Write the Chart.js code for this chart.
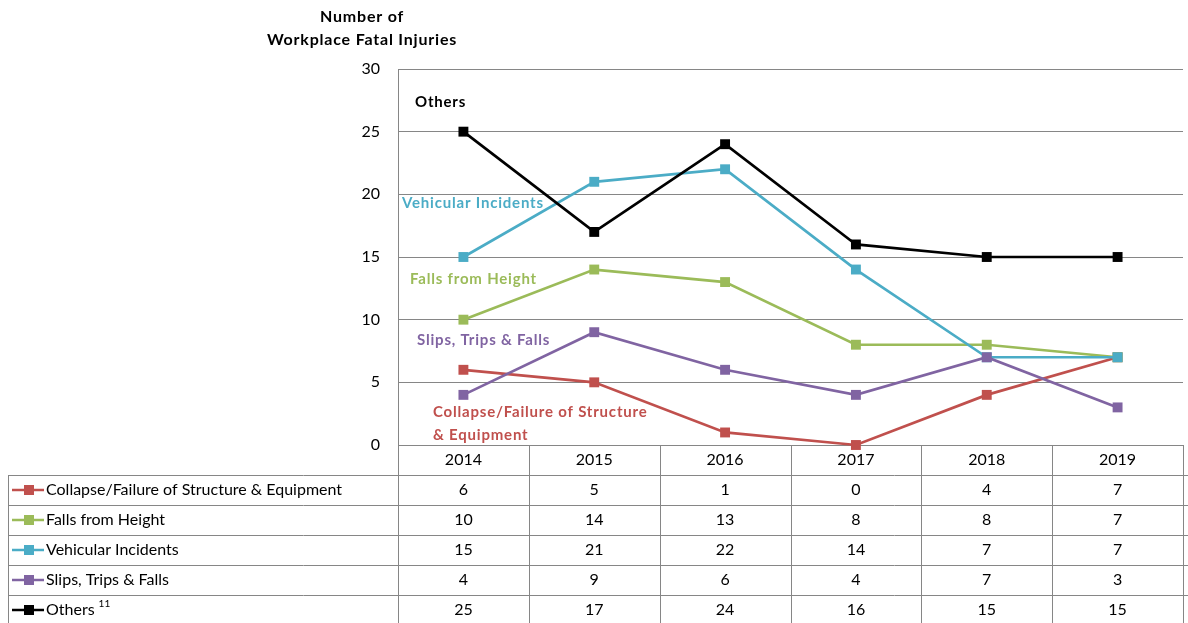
<!DOCTYPE html>
<html>
<head>
<meta charset="utf-8">
<script src="https://cdn.jsdelivr.net/npm/chart.js@4/dist/chart.umd.min.js"></script>
<style>
    body { margin: 0; overflow: hidden; background: #fff; }
    #wrap { width: 1190px; height: 623px; }
</style>
</head>
<body>
<div id="wrap"><canvas id="fatalChart" width="1190" height="623"></canvas></div>
<script>
const years = ['2014', '2015', '2016', '2017', '2018', '2019']

const collapseFailure = [6, 5, 1, 0, 4, 7]
const fallsFromHeight = [10, 14, 13, 8, 8, 7]
const vehicularIncidents = [15, 21, 22, 14, 7, 7]
const slipsTripsFalls = [4, 9, 6, 4, 7, 3]
const others = [25, 17, 24, 16, 15, 15]

const seriesNames = ['Collapse/Failure of Structure & Equipment', 'Falls from Height', 'Vehicular Incidents', 'Slips, Trips & Falls', 'Others']
const seriesColors = ['#C0504D', '#9BBB59', '#4BACC6', '#8064A2', '#000000']
const seriesValues = [collapseFailure, fallsFromHeight, vehicularIncidents, slipsTripsFalls, others]

const yTicks = [0, 5, 10, 15, 20, 25, 30]

const FONT = 'Lato, "Open Sans", sans-serif'
const GRID = '#868686'

// labels drawn inside the plot (text, colour, x, y)
const plotLabels = [
    ['Others', '#000000', 415, 102],
    ['Vehicular Incidents', '#4BACC6', 402, 203],
    ['Falls from Height', '#9BBB59', 410, 279],
    ['Slips, Trips & Falls', '#8064A2', 417, 340],
    ['Collapse/Failure of Structure', '#C0504D', 433, 412],
    ['& Equipment', '#C0504D', 433, 435],
]

const datasets = seriesNames.map((name, i) => ({
    label: name,
    data: seriesValues[i],
    borderColor: seriesColors[i],
    backgroundColor: seriesColors[i],
    borderWidth: 2.7,
    pointStyle: 'rect',
    pointRadius: 7,
    pointHoverRadius: 7,
    pointBorderWidth: 0,
    tension: 0,
    clip: false,
    order: seriesNames.length - i
}))

const tablePlugin = {
    id: 'tablePlugin',
    afterDraw(chart) {
        const ctx = chart.ctx
        const x = chart.scales.x
        const area = chart.chartArea
        const step = x.getPixelForValue(1) - x.getPixelForValue(0)
        const tableLeft = 8
        const headerTop = area.bottom
        const rowTop = headerTop + 30
        const rowH = 30

        ctx.save()

        // title
        ctx.fillStyle = '#000'
        ctx.font = 'bold 16px ' + FONT
        ctx.letterSpacing = '0.8px'
        ctx.textAlign = 'center'
        ctx.textBaseline = 'middle'
        ctx.fillText('Number of', 362, 17)
        ctx.fillText('Workplace Fatal Injuries', 362, 40)

        // in-plot labels
        ctx.font = 'bold 15px ' + FONT
        ctx.letterSpacing = '0.8px'
        ctx.textAlign = 'left'
        plotLabels.forEach(([text, color, lx, ly]) => {
            ctx.fillStyle = color
            ctx.fillText(text, lx, ly)
        })
        ctx.letterSpacing = '0px'

        // table lines
        ctx.strokeStyle = GRID
        ctx.lineWidth = 1
        ctx.beginPath()
        for (let r = 0; r <= seriesNames.length; r++) {
            const yy = Math.round(rowTop + r * rowH) + 0.5
            ctx.moveTo(tableLeft, yy)
            ctx.lineTo(chart.width, yy)
        }
        ctx.moveTo(tableLeft + 0.5, rowTop)
        ctx.lineTo(tableLeft + 0.5, chart.height)
        for (let c = 0; c <= years.length; c++) {
            const xx = Math.round(x.getPixelForValue(0) - step / 2 + c * step) + 0.5
            ctx.moveTo(xx, headerTop)
            ctx.lineTo(xx, chart.height)
        }
        ctx.stroke()

        // header years
        ctx.fillStyle = '#000'
        ctx.font = '16px ' + FONT
        ctx.textAlign = 'center'
        years.forEach((yr, i) => {
            ctx.fillText(yr, x.getPixelForValue(i), headerTop + 15)
        })

        // rows
        seriesNames.forEach((name, r) => {
            const cy = rowTop + r * rowH + rowH / 2
            // legend key
            ctx.strokeStyle = seriesColors[r]
            ctx.lineWidth = 2.5
            ctx.beginPath()
            ctx.moveTo(12, cy)
            ctx.lineTo(44, cy)
            ctx.stroke()
            ctx.fillStyle = seriesColors[r]
            ctx.fillRect(24, cy - 5, 10, 10)

            ctx.fillStyle = '#000'
            ctx.font = '16px ' + FONT
            ctx.textAlign = 'left'
            ctx.fillText(name, 46, cy)
            if (name === 'Others') {
                const w = ctx.measureText(name).width
                ctx.font = '10px ' + FONT
                ctx.fillText('11', 46 + w + 4, cy - 6)
            }

            ctx.font = '16px ' + FONT
            ctx.textAlign = 'center'
            seriesValues[r].forEach((v, i) => {
                ctx.fillText(String(v), x.getPixelForValue(i), cy)
            })
        })

        ctx.restore()
    }
}

new Chart(document.getElementById('fatalChart'), {
    type: 'line',
    data: { labels: years, datasets: datasets },
    options: {
        responsive: false,
        animation: false,
        devicePixelRatio: 1,
        layout: { padding: { left: 0, top: 69, right: 0, bottom: 178 } },
        plugins: {
            legend: { display: false },
            tooltip: { enabled: false },
            title: { display: false }
        },
        scales: {
            x: {
                display: false,
                offset: true
            },
            y: {
                min: 0,
                max: 30,
                afterFit: scale => { scale.width = 398 },
                afterBuildTicks: scale => { scale.ticks = yTicks.map(v => ({ value: v })) },
                grid: { color: GRID, lineWidth: 1, drawTicks: false },
                border: { display: true, color: GRID, width: 1 },
                ticks: {
                    padding: 18,
                    color: '#000',
                    font: { family: FONT, size: 16 }
                }
            }
        }
    },
    plugins: [tablePlugin]
})
</script>
</body>
</html>
